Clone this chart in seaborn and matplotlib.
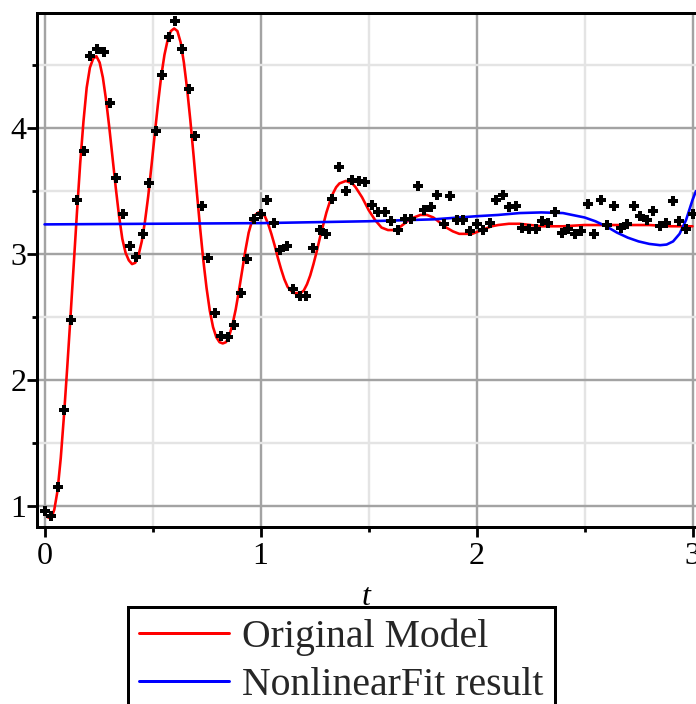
import matplotlib
matplotlib.use("Agg")
import numpy as np
import pandas as pd
import seaborn as sns
import matplotlib.pyplot as plt
from matplotlib.ticker import MultipleLocator

# ---- data ----
t_data = [0.000, 0.030, 0.061, 0.091, 0.121, 0.152, 0.182, 0.212, 0.242, 0.273,
          0.303, 0.333, 0.364, 0.394, 0.424, 0.455, 0.485, 0.515, 0.545, 0.576,
          0.606, 0.636, 0.667, 0.697, 0.727, 0.758, 0.788, 0.818, 0.848, 0.879,
          0.909, 0.939, 0.970, 1.000, 1.030, 1.061, 1.091, 1.121, 1.152, 1.182,
          1.212, 1.242, 1.273, 1.303, 1.333, 1.364, 1.394, 1.424, 1.455, 1.485,
          1.515, 1.545, 1.576, 1.606, 1.636, 1.667, 1.697, 1.727, 1.758, 1.788,
          1.818, 1.848, 1.879, 1.909, 1.939, 1.970, 2.000, 2.030, 2.061, 2.091,
          2.121, 2.152, 2.182, 2.212, 2.242, 2.273, 2.303, 2.333, 2.364, 2.394,
          2.424, 2.455, 2.485, 2.515, 2.545, 2.576, 2.606, 2.636, 2.667, 2.697,
          2.727, 2.758, 2.788, 2.818, 2.848, 2.879, 2.909, 2.939, 2.970, 3.000]
y_data = [0.96, 0.92, 1.15, 1.76, 2.48, 3.43, 3.82, 4.57, 4.63, 4.60,
          4.20, 3.60, 3.32, 3.06, 2.98, 3.16, 3.56, 3.98, 4.42, 4.72,
          4.85, 4.63, 4.31, 3.94, 3.38, 2.97, 2.53, 2.35, 2.34, 2.44,
          2.69, 2.96, 3.28, 3.32, 3.43, 3.25, 3.03, 3.06, 2.72, 2.67,
          2.67, 3.05, 3.19, 3.16, 3.44, 3.69, 3.50, 3.59, 3.58, 3.57,
          3.39, 3.33, 3.33, 3.26, 3.19, 3.28, 3.28, 3.54, 3.35, 3.37,
          3.47, 3.24, 3.46, 3.27, 3.27, 3.18, 3.24, 3.19, 3.25, 3.43,
          3.47, 3.37, 3.38, 3.21, 3.20, 3.20, 3.26, 3.25, 3.33, 3.17,
          3.20, 3.16, 3.18, 3.40, 3.16, 3.43, 3.23, 3.38, 3.21, 3.24,
          3.38, 3.30, 3.27, 3.34, 3.22, 3.25, 3.42, 3.26, 3.20, 3.32]

t_model = [0.0, 0.015, 0.03, 0.045, 0.06, 0.075, 0.09, 0.105, 0.12, 0.135,
           0.15, 0.165, 0.18, 0.195, 0.21, 0.225, 0.24, 0.255, 0.27, 0.285,
           0.30, 0.315, 0.33, 0.345, 0.36, 0.375, 0.39, 0.405, 0.42, 0.435,
           0.45, 0.465, 0.48, 0.495, 0.51, 0.525, 0.54, 0.555, 0.57, 0.585,
           0.60, 0.615, 0.63, 0.645, 0.66, 0.675, 0.69, 0.705, 0.72, 0.735,
           0.75, 0.765, 0.78, 0.795, 0.81, 0.825, 0.84, 0.855, 0.87, 0.885,
           0.90, 0.915, 0.93, 0.945, 0.96, 0.975, 0.99, 1.005, 1.02, 1.035,
           1.05, 1.065, 1.08, 1.095, 1.11, 1.125, 1.14, 1.155, 1.17, 1.185,
           1.20, 1.215, 1.23, 1.245, 1.26, 1.275, 1.29, 1.305, 1.32, 1.335,
           1.35, 1.365, 1.38, 1.395, 1.41, 1.425, 1.44, 1.455, 1.47, 1.485,
           1.50, 1.515, 1.53, 1.545, 1.56, 1.575, 1.59, 1.605, 1.62, 1.635,
           1.65, 1.68, 1.71, 1.74, 1.77, 1.80, 1.83, 1.86, 1.89, 1.92,
           1.95, 1.98, 2.01, 2.04, 2.07, 2.10, 2.15, 2.20, 2.25, 2.30,
           2.35, 2.40, 2.50, 2.60, 2.70, 2.80, 2.90, 3.00]
y_model = [0.95, 0.91, 0.90, 0.97, 1.12, 1.38, 1.72, 2.10, 2.50, 2.92,
           3.33, 3.72, 4.05, 4.32, 4.48, 4.55, 4.57, 4.52, 4.40, 4.22,
           4.00, 3.76, 3.52, 3.30, 3.12, 3.01, 2.95, 2.92, 2.93, 2.99,
           3.10, 3.26, 3.46, 3.70, 3.95, 4.19, 4.41, 4.58, 4.70, 4.77,
           4.79, 4.77, 4.68, 4.52, 4.31, 4.06, 3.78, 3.49, 3.21, 2.95,
           2.73, 2.55, 2.42, 2.34, 2.30, 2.29, 2.30, 2.35, 2.44, 2.56,
           2.71, 2.87, 3.03, 3.17, 3.26, 3.31, 3.33, 3.33, 3.30, 3.24,
           3.16, 3.07, 2.97, 2.88, 2.80, 2.74, 2.71, 2.69, 2.69, 2.69,
           2.71, 2.76, 2.83, 2.92, 3.02, 3.13, 3.23, 3.33, 3.41, 3.48,
           3.53, 3.56, 3.57, 3.58, 3.57, 3.56, 3.53, 3.49, 3.45, 3.40,
           3.35, 3.31, 3.27, 3.24, 3.21, 3.20, 3.19, 3.19, 3.19, 3.20,
           3.22, 3.26, 3.29, 3.31, 3.31, 3.29, 3.25, 3.21, 3.18, 3.16,
           3.16, 3.16, 3.18, 3.20, 3.22, 3.23, 3.24, 3.24, 3.23, 3.22,
           3.22, 3.22, 3.23, 3.23, 3.23, 3.23, 3.22, 3.22]

t_fit = [0.0, 0.5, 1.0, 1.5, 1.8, 2.0, 2.1, 2.2, 2.3, 2.4, 2.5, 2.55, 2.6,
         2.65, 2.7, 2.75, 2.8, 2.85, 2.88, 2.91, 2.94, 2.97, 3.0, 3.016]
y_fit = [3.235, 3.24, 3.245, 3.26, 3.275, 3.30, 3.31, 3.325, 3.33, 3.325,
         3.29, 3.26, 3.22, 3.17, 3.13, 3.10, 3.08, 3.07, 3.075, 3.10, 3.16,
         3.27, 3.43, 3.50]

labels = ["Original Model", "NonlinearFit result"]
x_ticks = [0, 1, 2, 3]
y_ticks = [1, 2, 3, 4]

# ---- styling ----
sns.set_theme(style="white")
plt.rcParams['font.family'] = ['Liberation Serif', 'DejaVu Serif']

W, H = 696, 704
fig = plt.figure(figsize=(W / 100, H / 100), dpi=100)
ax = fig.add_axes([37 / W, 177 / H, 659 / W, 514 / H])

px = 0.72  # points per pixel

df_model = pd.DataFrame({"t": t_model, "y": y_model})
df_fit = pd.DataFrame({"t": t_fit, "y": y_fit})
df_data = pd.DataFrame({"t": t_data, "y": y_data})

sns.lineplot(data=df_model, x="t", y="y", ax=ax, color="#ff0000",
             lw=2.6 * px, label=labels[0], zorder=3)
sns.lineplot(data=df_fit, x="t", y="y", ax=ax, color="#0000ff",
             lw=2.6 * px, label=labels[1], zorder=3)
sns.scatterplot(data=df_data, x="t", y="y", ax=ax, marker="P", s=48,
                color="black", linewidth=0, zorder=4, legend=False)

ax.set_xlim(-0.035, 3.016)
ax.set_ylim(0.833, 4.913)
ax.xaxis.set_minor_locator(MultipleLocator(0.5))
ax.yaxis.set_minor_locator(MultipleLocator(0.5))
ax.set_xticks(x_ticks)
ax.set_yticks(y_ticks)
ax.set_xticklabels([str(v) for v in x_ticks])
ax.set_yticklabels([str(v) for v in y_ticks])

ax.grid(True, which="major", color="#a3a3a3", lw=2.4 * px, zorder=0)
ax.grid(True, which="minor", color="#e4e4e4", lw=2.4 * px, zorder=0)
ax.set_axisbelow(True)

for side in ["left", "bottom", "top"]:
    ax.spines[side].set_visible(True)
    ax.spines[side].set_color("black")
    ax.spines[side].set_linewidth(3 * px)
ax.spines["right"].set_visible(False)

ax.tick_params(which="major", direction="out", length=10 * px, width=2.8 * px,
               color="black", labelsize=23, left=True, bottom=True)
ax.tick_params(which="minor", direction="out", length=5 * px, width=2.8 * px,
               color="black", left=True, bottom=True)
ax.tick_params(axis="x", which="major", pad=3.5)
ax.tick_params(axis="y", which="major", pad=0.5)

ax.set_xlabel("t", fontstyle="italic", fontsize=23, labelpad=8.8, color="black")
ax.set_ylabel("")
for lab in ax.get_xticklabels() + ax.get_yticklabels():
    lab.set_color("black")

handles, labs = ax.get_legend_handles_labels()
ax.get_legend().remove()
leg = fig.legend(handles, labs, loc="upper left",
                 bbox_to_anchor=(128 / W, 1 - 607 / H),
                 bbox_transform=fig.transFigure, frameon=True, fancybox=False,
                 edgecolor="black", framealpha=1, borderpad=0.28,
                 handlelength=2.27, handletextpad=0.33, labelspacing=0.29,
                 borderaxespad=0, prop={"family": "Liberation Serif", "size": 28.6})
leg.get_frame().set_linewidth(3 * px)
for line in leg.get_lines():
    line.set_linewidth(3 * px)

fig.savefig("out.png", dpi=100)
